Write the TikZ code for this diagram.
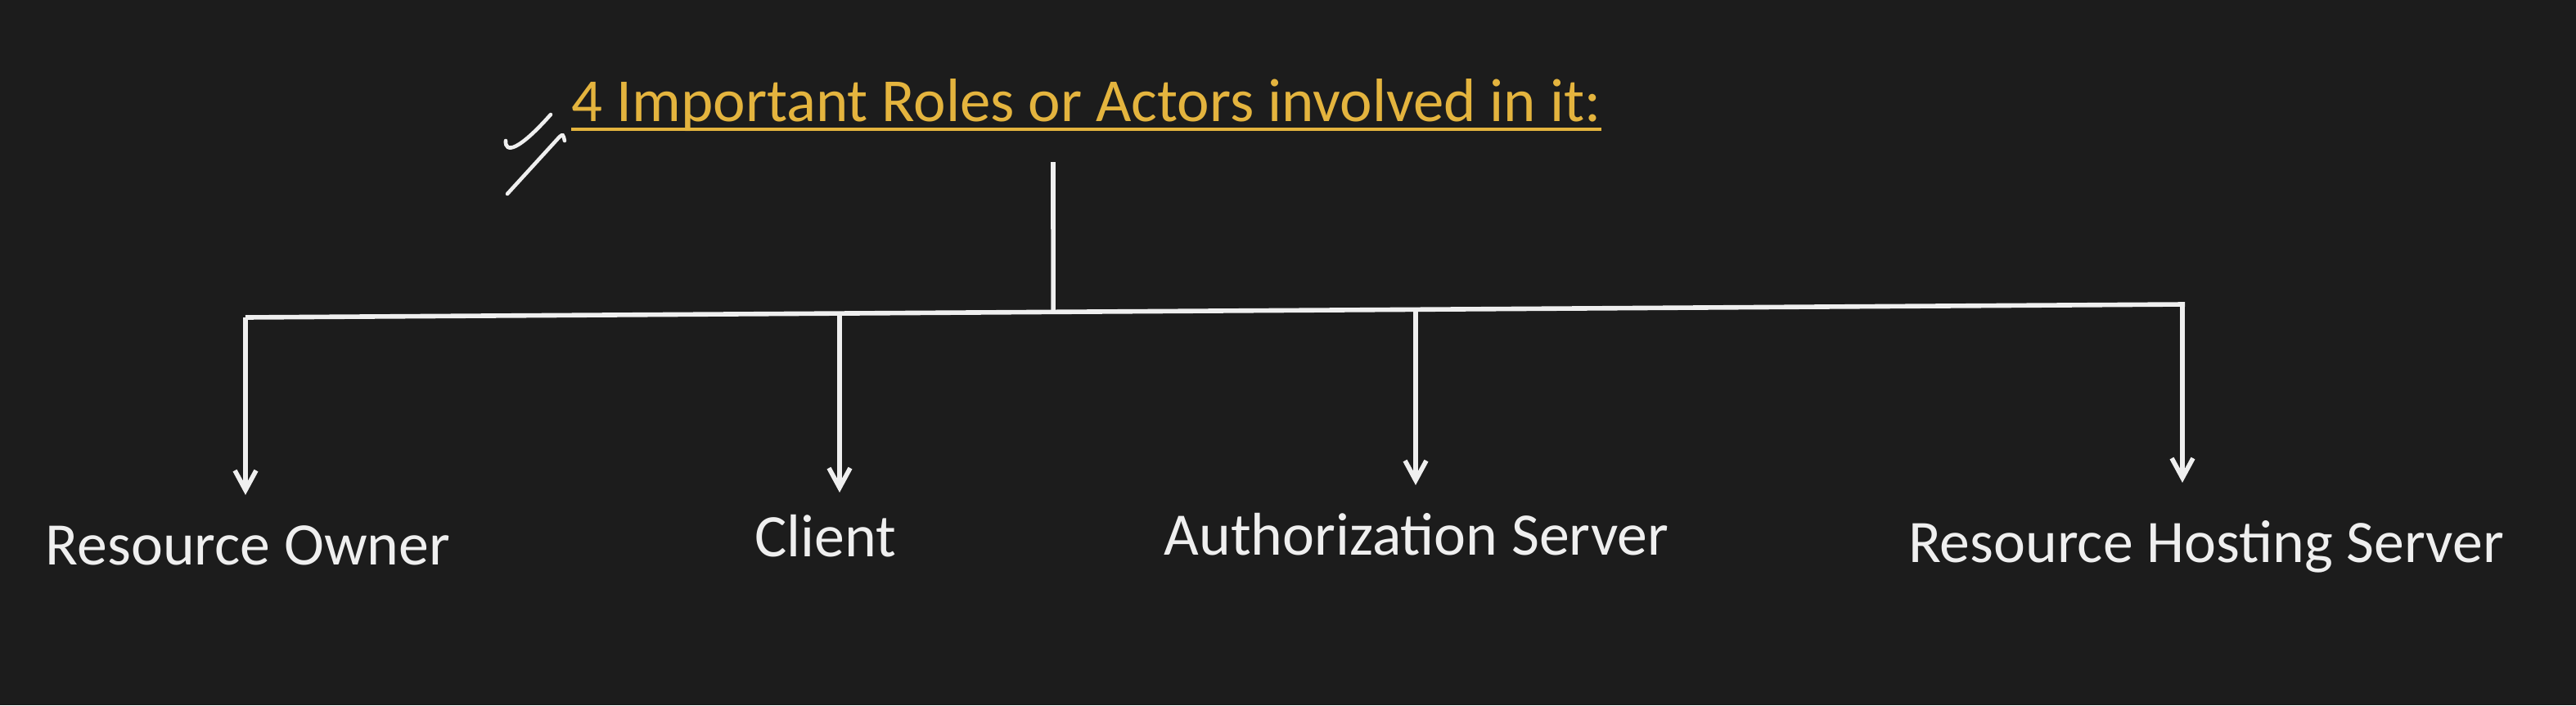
\documentclass[tikz,border=0pt]{standalone}
\usepackage{xcolor}
\usepackage{fontspec}
\setmainfont{Carlito}
\usetikzlibrary{arrows.meta, calc, positioning}
\definecolor{slate}{HTML}{1C1C1C}
\definecolor{chalk}{HTML}{EFEFEF}
\definecolor{gold}{RGB}{228,180,62}
\begin{document}
\begin{tikzpicture}[
    role/.style={anchor=base, inner sep=0pt, text=chalk, font=\fontsize{21}{25}\selectfont},
    branch/.style={-{Straight Barb[length=2.4mm, width=2.6mm]}, chalk, line width=1.6pt},
    wire/.style={chalk, line width=1.6pt},
]
\fill[slate] (0,0) rectangle (31.48,8.62);
\useasboundingbox (0,0) rectangle (31.48,8.62);
% heading
\node[anchor=base west, inner sep=0pt, text=gold, font=\fontsize{21.3}{26}\selectfont]
   (title) at (6.98,7.14) {4 Important Roles or Actors involved in it:};
\draw[gold, line width=1.4pt] ([yshift=-0.1cm]title.base west) -- ([yshift=-0.1cm]title.base east);
\draw[chalk, line width=1.3pt, line cap=round] (6.18,6.90) .. controls (6.17,6.74) and (6.34,6.78) .. (6.73,7.22);
\draw[chalk, line width=1.3pt, line cap=round] (6.20,6.25) -- (6.84,6.95) .. controls (6.88,6.98) .. (6.90,6.90);
% tree
\coordinate (top) at (12.87,6.64);
\coordinate (bl) at (3.00,4.74);
\coordinate (br) at (26.70,4.90);
\coordinate (hub) at ($(bl)!0.4165!(br)$);
\coordinate (b2) at ($(bl)!0.3063!(br)$);
\coordinate (b3) at ($(bl)!0.6034!(br)$);
\coordinate (b4) at ($(bl)!0.9987!(br)$);
\draw[wire] (top) -- (hub);
\draw[wire, line join=round] (bl) -- (br);
% roles
\node[role] (owner) at (3.03,1.72) {Resource Owner};
\node[role] (client) at (10.09,1.82) {Client};
\node[role] (authsrv) at (17.31,1.84) {Authorization Server};
\node[role] (hostsrv) at (26.96,1.75) {Resource Hosting Server};
\coordinate (t1) at (3.00,2.57);
\coordinate (t2) at (10.26,2.60);
\coordinate (t3) at (17.30,2.69);
\coordinate (t4) at (26.67,2.72);
\draw[branch] (bl) -- (t1);
\draw[branch] (b2) -- (t2);
\draw[branch] (b3) -- (t3);
\draw[branch] (b4) -- (t4);
\end{tikzpicture}
\end{document}
